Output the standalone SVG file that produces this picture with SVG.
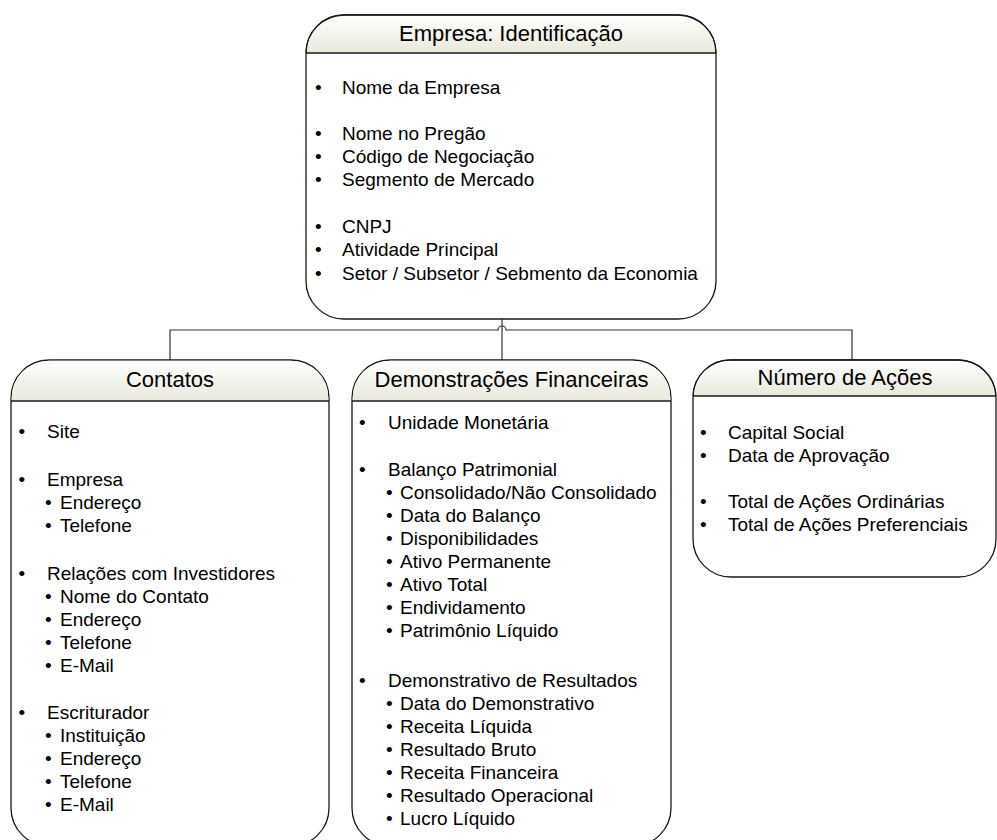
<svg xmlns="http://www.w3.org/2000/svg" width="997" height="840" viewBox="0 0 997 840">
<style>
.box{fill:#ffffff;stroke:#1a1a1a;stroke-width:1.3}
.hdr{fill:url(#hg);stroke:none}
.sep{stroke:#1a1a1a;stroke-width:1.3}
.conn{fill:none;stroke:#333333;stroke-width:1.2}
text{font-family:"Liberation Sans",Arial,sans-serif;fill:#000}
.t{font-size:22px;text-anchor:middle}
.b{font-size:19px}
</style>
<defs>
<linearGradient id="hg" x1="0" y1="0" x2="0" y2="1">
<stop offset="0" stop-color="#ffffff"/>
<stop offset="1" stop-color="#e8e8dc"/>
</linearGradient>
</defs>
<g id="connectors">
<path class="conn" d="M502,319 V360"/>
<path class="conn" d="M170,360 V330 H498 A4,4 0 0 1 506,330 H852 V360"/>
</g>
<g id="empresa">
<rect class="box" x="306" y="15" width="410" height="304" rx="38" ry="38"/>
<path class="hdr" d="M306.7,53 A37.3,37.3 0 0 1 344,15.7 H678 A37.3,37.3 0 0 1 715.3,53 Z"/>
<path class="box" d="M306,53 A38,38 0 0 1 344,15 H678 A38,38 0 0 1 716,53" style="fill:none"/>
<line class="sep" x1="306" y1="53" x2="716" y2="53"/>
<text class="t" x="511" y="41">Empresa: Identificação</text>
<g class="b">
<text x="315" y="93.5">•</text><text x="342" y="93.5">Nome da Empresa</text>
<text x="315" y="139.5">•</text><text x="342" y="139.5">Nome no Pregão</text>
<text x="315" y="162.5">•</text><text x="342" y="162.5">Código de Negociação</text>
<text x="315" y="186">•</text><text x="342" y="186">Segmento de Mercado</text>
<text x="315" y="233">•</text><text x="342" y="233">CNPJ</text>
<text x="315" y="256">•</text><text x="342" y="256">Atividade Principal</text>
<text x="315" y="279.5">•</text><text x="342" y="279.5">Setor / Subsetor / Sebmento da Economia</text>
</g>
</g>
<g id="contatos">
<rect class="box" x="11" y="360" width="318" height="486" rx="38" ry="38"/>
<path class="hdr" d="M11.7,401 V398 A37.3,37.3 0 0 1 49,360.7 H291 A37.3,37.3 0 0 1 328.3,398 V401 Z"/>
<line class="sep" x1="11" y1="401" x2="329" y2="401"/>
<text class="t" x="170" y="387">Contatos</text>
<g class="b">
<text x="18.5" y="438">•</text><text x="47" y="438">Site</text>
<text x="18.5" y="486">•</text><text x="47" y="486">Empresa</text>
<text x="45" y="509">•</text><text x="60" y="509">Endereço</text>
<text x="45" y="532">•</text><text x="60" y="532">Telefone</text>
<text x="18.5" y="580">•</text><text x="47" y="580">Relações com Investidores</text>
<text x="45" y="603">•</text><text x="60" y="603">Nome do Contato</text>
<text x="45" y="626">•</text><text x="60" y="626">Endereço</text>
<text x="45" y="649">•</text><text x="60" y="649">Telefone</text>
<text x="45" y="672">•</text><text x="60" y="672">E-Mail</text>
<text x="18.5" y="719">•</text><text x="47" y="719">Escriturador</text>
<text x="45" y="742">•</text><text x="60" y="742">Instituição</text>
<text x="45" y="765">•</text><text x="60" y="765">Endereço</text>
<text x="45" y="788">•</text><text x="60" y="788">Telefone</text>
<text x="45" y="811">•</text><text x="60" y="811">E-Mail</text>
</g>
</g>
<g id="demonstracoes">
<rect class="box" x="352" y="360" width="319" height="486" rx="38" ry="38"/>
<path class="hdr" d="M352.7,401 V398 A37.3,37.3 0 0 1 390,360.7 H633 A37.3,37.3 0 0 1 670.3,398 V401 Z"/>
<line class="sep" x1="352" y1="401" x2="671" y2="401"/>
<text class="t" x="511.5" y="387">Demonstrações Financeiras</text>
<g class="b">
<text x="359" y="429">•</text><text x="388" y="429">Unidade Monetária</text>
<text x="359" y="476">•</text><text x="388" y="476">Balanço Patrimonial</text>
<text x="386" y="499">•</text><text x="400" y="499">Consolidado/Não Consolidado</text>
<text x="386" y="522">•</text><text x="400" y="522">Data do Balanço</text>
<text x="386" y="545">•</text><text x="400" y="545">Disponibilidades</text>
<text x="386" y="568">•</text><text x="400" y="568">Ativo Permanente</text>
<text x="386" y="591">•</text><text x="400" y="591">Ativo Total</text>
<text x="386" y="614">•</text><text x="400" y="614">Endividamento</text>
<text x="386" y="637">•</text><text x="400" y="637">Patrimônio Líquido</text>
<text x="359" y="687">•</text><text x="388" y="687">Demonstrativo de Resultados</text>
<text x="386" y="710">•</text><text x="400" y="710">Data do Demonstrativo</text>
<text x="386" y="733">•</text><text x="400" y="733">Receita Líquida</text>
<text x="386" y="756">•</text><text x="400" y="756">Resultado Bruto</text>
<text x="386" y="779">•</text><text x="400" y="779">Receita Financeira</text>
<text x="386" y="802">•</text><text x="400" y="802">Resultado Operacional</text>
<text x="386" y="825">•</text><text x="400" y="825">Lucro Líquido</text>
</g>
</g>
<g id="numero-acoes">
<rect class="box" x="693" y="360" width="303" height="217" rx="38" ry="38"/>
<path class="hdr" d="M693.7,396 A36,36 0 0 1 731,360.7 H958 A37.3,37.3 0 0 1 995.3,396 Z"/>
<path class="box" d="M693,396 A37,37 0 0 1 731,360 H958 A38,38 0 0 1 996,396" style="fill:none"/>
<line class="sep" x1="693" y1="396" x2="996" y2="396"/>
<text class="t" x="845" y="385">Número de Ações</text>
<g class="b">
<text x="700" y="439">•</text><text x="728" y="439">Capital Social</text>
<text x="700" y="462">•</text><text x="728" y="462">Data de Aprovação</text>
<text x="700" y="508">•</text><text x="728" y="508">Total de Ações Ordinárias</text>
<text x="700" y="531">•</text><text x="728" y="531">Total de Ações Preferenciais</text>
</g>
</g>
</svg>
